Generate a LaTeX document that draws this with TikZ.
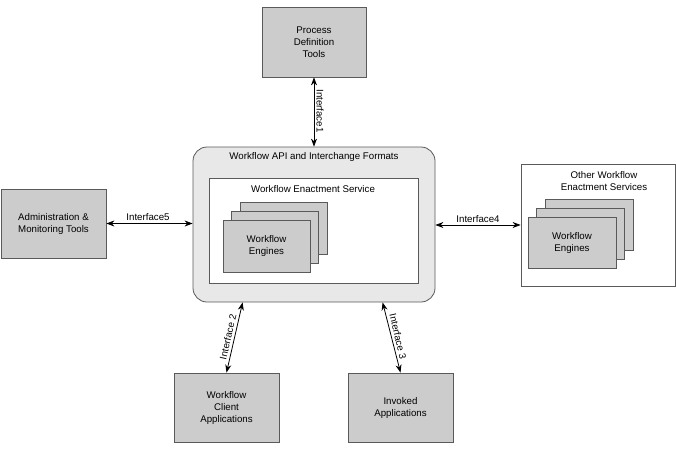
\documentclass[tikz,border=0pt]{standalone}
\usepackage{fontspec}
\setmainfont{Liberation Sans}
\usetikzlibrary{arrows.meta}
\definecolor{boxgray}{HTML}{CCCCCC}
\definecolor{apigray}{HTML}{E8E8E8}
\definecolor{edgegray}{HTML}{5A5A5A}
\begin{document}
\begin{tikzpicture}[x=1pt,y=-1pt,
  every node/.style={font=\fontsize{9.7}{12}\selectfont, inner sep=0pt},
  gbox/.style={draw=edgegray, fill=boxgray, line width=0.8pt, align=center},
  wbox/.style={draw=edgegray, fill=white, line width=0.8pt},
  engbox/.style={gbox, minimum width=87pt, minimum height=52pt},
  conn/.style={line width=0.8pt, {Stealth[length=8pt,width=6pt]}-{Stealth[length=8pt,width=6pt]}}
]
\useasboundingbox (0,0) rectangle (676,452);

% top box
\node[gbox, minimum width=104pt, minimum height=70pt] (pdt) at (314,42) {Process\\Definition\\Tools};

% main API box
\node[draw=edgegray, fill=apigray, line width=0.8pt, rounded corners=14pt,
      minimum width=242pt, minimum height=155pt] (api) at (314,224.5) {};
\node (apititle) at (314,157) {Workflow API and Interchange Formats};
\node[wbox, minimum width=209pt, minimum height=105pt] (wes) at (313.5,230.5) {};
\node (westitle) at (313,189) {Workflow Enactment Service};
\node[engbox] (e3) at (283.5,228.5) {};
\node[engbox] (e2) at (275,237.5) {};
\node[engbox] (e1) at (266.5,246) {Workflow\\Engines};

% admin
\node[gbox, minimum width=105pt, minimum height=69pt] (adm) at (53.5,223.5) {Administration \&\\Monitoring Tools};

% other services
\node[wbox, minimum width=154pt, minimum height=122pt] (oth) at (598,225) {};
\node[align=center] (othtitle) at (604,181.5) {Other Workflow\\Enactment Services};
\node[engbox, minimum width=88pt, minimum height=51pt] (o3) at (589.5,225) {};
\node[engbox, minimum width=88pt, minimum height=51pt] (o2) at (580.5,234) {};
\node[engbox, minimum width=88pt, minimum height=51pt] (o1) at (572,242.5) {Workflow\\Engines};

% bottom boxes
\node[gbox, minimum width=105pt, minimum height=69pt] (wca) at (226.5,407.5) {Workflow\\Client\\Applications};
\node[gbox, minimum width=105pt, minimum height=69pt] (inv) at (400.5,407.5) {Invoked\\Applications};

% connectors
\draw[conn] (pdt.south) -- (api.north);
\draw[conn] (adm.east) -- (adm.east -| api.west);
\draw[conn] (api.east |- oth.west) -- (oth.west);
\draw[conn] ([xshift=50pt]api.south west) -- (wca.north);
\draw[conn] ([xshift=190pt]api.south west) -- (inv.north);

% labels
\node[rotate=-90] (l1) at (320,111) {Interface1};
\node (l5) at (148,217) {Interface5};
\node (l4) at (478,219) {Interface4};
\node[rotate=77] (l2) at (228,337) {Interface 2};
\node[rotate=-77] (l3) at (398,336.5) {Interface 3};
\end{tikzpicture}
\end{document}
